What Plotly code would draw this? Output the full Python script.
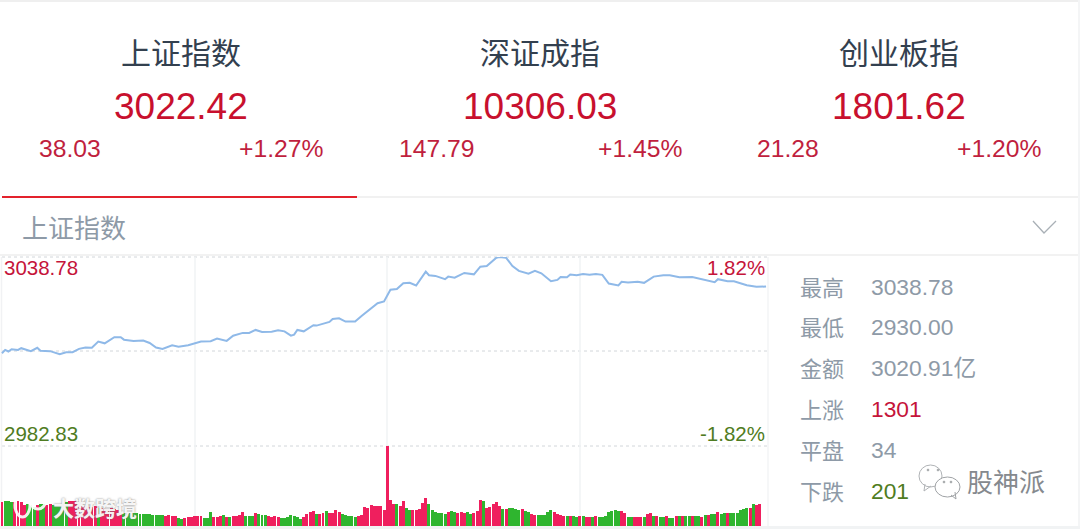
import plotly.graph_objects as go

W, H = 1080, 529

# --- index cards ---
index_names = ["上证指数", "深证成指", "创业板指"]
index_values = ["3022.42", "10306.03", "1801.62"]
index_changes = ["38.03", "147.79", "21.28"]
index_pcts = ["+1.27%", "+1.45%", "+1.20%"]

# --- side panel ---
stat_labels = ["最高", "最低", "金额", "上涨", "平盘", "下跌"]
stat_values = ["3038.78", "2930.00", "3020.91亿", "1301", "34", "201"]

# --- intraday price, minutes since the open ---
line_minutes = [0, 1, 2, 3, 5, 6, 9, 11, 12, 15, 18, 20, 22, 24, 26, 28, 30, 32, 35, 37, 38, 41, 44, 46, 48, 50,
                53, 55, 58, 60, 62, 65, 67, 70, 72, 75, 77, 79, 81, 84, 86, 88, 90, 91, 92, 94, 97, 98, 101, 102,
                103, 105, 107, 110, 112, 114, 117, 119, 121, 123, 125, 127, 129, 132, 133, 135, 138, 139, 141,
                144, 147, 149, 151, 154, 155, 157, 159, 161, 164, 166, 168, 171, 173, 174, 176, 177, 179, 181,
                183, 185, 187, 189, 192, 193, 195, 198, 200, 203, 206, 208, 210, 211, 215, 218, 222, 223, 226,
                228, 232, 235, 238]
line_prices = [2983.4, 2985.3, 2984.4, 2985.7, 2985.3, 2986.3, 2984.6, 2986.5, 2984.8, 2984.6, 2982.9, 2984.0,
               2984.0, 2985.9, 2986.7, 2986.5, 2990.1, 2989.1, 2992.6, 2992.6, 2991.2, 2990.5, 2990.7, 2989.3,
               2986.7, 2985.9, 2988.0, 2987.2, 2988.0, 2989.0, 2990.1, 2990.3, 2991.8, 2990.5, 2993.5, 2995.1,
               2995.1, 2996.8, 2995.6, 2995.8, 2996.6, 2996.0, 2993.5, 2994.1, 2996.8, 2996.0, 2999.5, 2999.3,
               3001.2, 3001.4, 3003.1, 3003.5, 3001.6, 3001.6, 3004.8, 3007.8, 3012.2, 3013.2, 3019.9, 3020.3,
               3023.7, 3023.9, 3022.4, 3030.4, 3028.3, 3027.9, 3026.0, 3027.5, 3026.9, 3029.6, 3028.8, 3033.2,
               3033.6, 3038.4, 3038.78, 3038.4, 3033.6, 3030.8, 3029.2, 3030.8, 3029.4, 3024.8, 3025.6, 3027.3,
               3027.1, 3028.7, 3028.3, 3029.0, 3028.5, 3029.0, 3028.5, 3023.5, 3022.4, 3024.5, 3024.1, 3024.5,
               3023.9, 3027.5, 3028.3, 3028.3, 3027.7, 3027.1, 3027.3, 3026.2, 3024.3, 3026.0, 3024.8, 3024.8,
               3022.5, 3021.6, 3021.8]

# --- per-minute volume (relative to the opening-spike height) ---
volume = [24, 25, 25, 24, 24, 25, 24, 21, 22, 21,
          19, 21, 22, 22, 21, 22, 21, 20, 20, 22,
          24, 25, 25, 25, 22, 20, 20, 19, 19, 20,
          18, 18, 17, 17, 18, 17, 16, 14, 13, 12,
          13, 13, 13, 12, 12, 12, 12, 11, 11, 11,
          11, 10, 11, 10, 10, 8, 7, 8, 9, 9,
          10, 10, 10, 8, 8, 14, 9, 9, 10, 11,
          9, 9, 10, 10, 11, 14, 10, 10, 10, 13,
          12, 11, 11, 10, 9, 10, 9, 8, 8, 9,
          11, 10, 9, 7, 9, 12, 14, 15, 12, 12,
          13, 15, 13, 13, 16, 14, 12, 11, 10, 10,
          9, 10, 11, 19, 18, 21, 20, 20, 20, 16,
          80, 26, 22, 22, 20, 25, 18, 16, 16, 16,
          17, 23, 28, 22, 16, 14, 13, 13, 12, 14,
          15, 14, 13, 14, 13, 14, 12, 13, 15, 26,
          25, 18, 19, 22, 24, 20, 17, 17, 18, 18,
          17, 16, 17, 15, 14, 12, 11, 11, 11, 11,
          14, 16, 14, 12, 11, 10, 10, 10, 10, 9,
          10, 10, 9, 9, 9, 10, 9, 9, 10, 14,
          15, 16, 15, 15, 13, 9, 9, 9, 9, 9,
          9, 12, 13, 10, 10, 9, 9, 10, 8, 8,
          10, 10, 10, 10, 10, 10, 10, 10, 9, 11,
          11, 12, 12, 14, 12, 13, 13, 13, 13, 13,
          16, 17, 18, 18, 22, 21, 22]
volume_dir = list("rgggrrrrgg" "grggrrgggg" "grrrrrrrrr" "grrrrrrrgg" "gggggggggg"
                  "grrrrggrrr" "rrrgggrrrg" "rgrrrrgggr" "gggrrrrggg" "ggggrrrrgr"
                  "rgrrrrgggg" "grrrrrrrrr" "rrrgrrggrr" "rrrggggggr" "ggrrrggrrr"
                  "grrrrrgrgg" "ggrggrrggg" "ggrrrrgrgg" "rgrrgrgggg" "gggrrggrrr"
                  "grrgrggrgg" "rgrggrggrg" "rggrggrggg" "gggrgrr")
minutes = list(range(len(volume)))

# --- colours ---
RED = "#c5143a"
GREEN = "#4f7c22"
GREY = "#8e9aa7"
DARK = "#33404f"
CJK = "Noto Sans CJK SC"
LAT = "Liberation Sans"

fig = go.Figure()
fig.add_trace(go.Scatter(x=line_minutes, y=line_prices, mode="lines", xaxis="x", yaxis="y",
                         line=dict(color="#8fb9e8", width=2, shape="linear"), hoverinfo="skip"))
fig.add_trace(go.Bar(x=minutes, y=volume, xaxis="x2", yaxis="y2", width=0.92,
                     marker=dict(color=["#ef1f5e" if d == "r" else "#2fb52f" for d in volume_dir], line_width=0),
                     hoverinfo="skip"))


def px(x):
    return x / W


def py(y):
    return 1 - y / H


ann = []


def text(x, y, s, size, color, anchor="left", font=LAT, shadow=None):
    f = dict(size=size, color=color, family=font)
    if shadow:
        f["shadow"] = shadow
    ann.append(dict(x=px(x), y=py(y), xref="paper", yref="paper", text=s, showarrow=False,
                    xanchor=anchor, yanchor="middle", font=f, borderpad=0, borderwidth=0))


for cx, nm, val, ch, chx, pct, pctx in zip([181, 540, 899], index_names, index_values, index_changes,
                                           [39, 399, 757], index_pcts, [323, 682, 1041]):
    text(cx, 51, nm, 30, DARK, "center", CJK)
    text(cx, 107, val, 37, "#c8102e", "center")
    text(chx, 148, ch, 24.7, "#c01f3e")
    text(pctx, 148, pct, 24.7, "#c01f3e", "right")

text(22, 226, "上证指数", 26, GREY, "left", CJK)
text(4, 267, "3038.78", 20.5, RED)
text(765, 267, "1.82%", 20.5, RED, "right")
text(4, 433, "2982.83", 20.5, GREEN)
text(765, 433, "-1.82%", 20.5, GREEN, "right")

for y, lab, v in zip([286, 326, 367, 408, 449, 490], stat_labels, stat_values):
    c = RED if v == "1301" else GREEN if v == "201" else GREY
    text(800, y, lab, 22, GREY, "left", CJK)
    text(871, y + 1, v, 22.8, c, "left", f"{LAT}, {CJK}")

text(967, 480, "股神派", 26, "#85898e", "left", CJK)
text(53, 507, "<b>大数跨境</b>", 21, "rgba(255,255,255,0.93)", "left", CJK, "0 0 2px #777")

shapes = []


def hline(y, x0, x1, color, width=1, dash="solid"):
    shapes.append(dict(type="line", xref="paper", yref="paper", x0=px(x0), x1=px(x1), y0=py(y), y1=py(y),
                       line=dict(color=color, width=width, dash=dash), layer="below"))


def vline(x, y0, y1, color, width=1):
    shapes.append(dict(type="line", xref="paper", yref="paper", x0=px(x), x1=px(x), y0=py(y0), y1=py(y1),
                       line=dict(color=color, width=width), layer="below"))


hline(1, 0, 1080, "#efefef", 2)
hline(197, 357, 1078, "#ececec", 1.5)
hline(197, 2, 357, "#e3222c", 2)
hline(255, 0, 1078, "#eeeeee", 1.5)
for y in (257, 351, 446):
    hline(y, 2, 768, "#d2d6da", 1, "dot")
for x in (195, 387, 580):
    vline(x, 257, 526, "#f1f3f5", 1.5)
vline(1.5, 257, 526, "#f1f2f4", 1.5)
vline(768, 257, 526, "#f3f4f6", 1.5)
# page edges
shapes.append(dict(type="rect", xref="paper", yref="paper", x0=px(1078), x1=1, y0=0, y1=1,
                   fillcolor="#f4f5f6", line_width=0, layer="below"))
shapes.append(dict(type="rect", xref="paper", yref="paper", x0=0, x1=1, y0=0, y1=py(526),
                   fillcolor="#f1f3f4", line_width=0, layer="below"))


def path(points):
    return "M " + " L ".join(f"{px(a):.5f},{py(b):.5f}" for a, b in points)


# dropdown chevron
shapes.append(dict(type="path", xref="paper", yref="paper", path=path([(1033, 221), (1044, 233), (1056, 221)]),
                   line=dict(color="#a9b0b6", width=1.3)))


def circle(x0, y0, x1, y1, color, width=1.0, fill="rgba(0,0,0,0)"):
    shapes.append(dict(type="circle", xref="paper", yref="paper", x0=px(x0), x1=px(x1), y0=py(y1), y1=py(y0),
                       line=dict(color=color, width=width), fillcolor=fill))


# WeChat mark beside the account name
circle(919, 465, 942, 487, "#b0b3b6")
shapes.append(dict(type="path", xref="paper", yref="paper", path=path([(925, 484), (924, 491), (931, 486)]),
                   line=dict(color="#b0b3b6", width=1)))
circle(935, 477, 960, 497, "#a0a3a6", 1.0, "white")
shapes.append(dict(type="path", xref="paper", yref="paper", path=path([(951, 495), (956, 499), (955, 492)]),
                   line=dict(color="#a0a3a6", width=1)))
for cx, cy in ((928, 470), (938, 470), (944, 482), (951, 482)):
    circle(cx - 1, cy - 1, cx + 1, cy + 1, "#a0a3a6", 0.6, "#a0a3a6")
# image-stamp logo in the lower left
circle(15, 493, 30, 517, "rgba(255,255,255,0.9)", 3)
circle(30, 490, 46, 509, "rgba(255,255,255,0.9)", 3)

fig.update_layout(
    width=W, height=H, autosize=False, margin=dict(l=0, r=0, t=0, b=0),
    paper_bgcolor="white", plot_bgcolor="rgba(0,0,0,0)", showlegend=False, bargap=0,
    xaxis=dict(domain=[px(1), px(768)], range=[-0.3, 238.6], visible=False),
    xaxis2=dict(domain=[px(1), px(768)], range=[-0.3, 238.6], visible=False, anchor="y2"),
    yaxis=dict(domain=[py(446), py(257)], range=[2930, 3038.78], visible=False),
    yaxis2=dict(domain=[py(526), py(446)], range=[0, 80], visible=False, anchor="x2"),
    annotations=ann, shapes=shapes,
)
fig.write_html("out.html", config=dict(displayModeBar=False),
               post_script="document.body.style.margin='0';document.documentElement.style.overflow='hidden';")
